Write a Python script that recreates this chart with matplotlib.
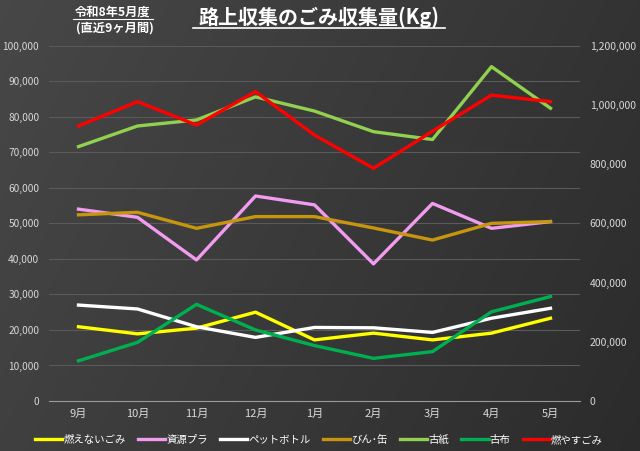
import matplotlib
matplotlib.use("Agg")
import matplotlib.pyplot as plt
import numpy as np
from matplotlib.ticker import FuncFormatter

plt.rcParams['font.family'] = ['Noto Sans CJK JP', 'DejaVu Sans']

months = ['9月', '10月', '11月', '12月', '1月', '2月', '3月', '4月', '5月']
moenai = [20900, 18900, 20500, 25000, 17200, 19100, 17200, 19100, 23300]
shigen_pla = [54000, 51700, 39700, 57700, 55200, 38600, 55600, 48600, 50500]
pet = [27000, 25900, 20900, 17900, 20700, 20600, 19300, 23300, 26100]
bin_kan = [52400, 53100, 48600, 51900, 51900, 48700, 45300, 50000, 50500]
koshi = [71600, 77400, 79100, 85600, 81600, 75800, 73600, 94100, 82400]
kofu = [11300, 16500, 27200, 20000, 15600, 12000, 13900, 25100, 29400]
moyasu = [929000, 1011000, 932000, 1045000, 898000, 786000, 911000, 1033000, 1011000]

fig = plt.figure(figsize=(6.4, 4.51), dpi=100)

# background gradient
bg = fig.add_axes([0, 0, 1, 1], zorder=-10)
gx = np.linspace(0, 1, 256)
gy = np.linspace(0, 1, 256)
X, Y = np.meshgrid(gx, gy)
val = 0.25 - 0.08 * X + 0.03 * Y
bg.imshow(np.dstack([val, val, val]), extent=[0, 1, 0, 1], aspect='auto', origin='lower')
bg.axis('off')

ax = fig.add_axes([49/640, 1-401/451, 531/640, (401-45.7)/451])
ax.patch.set_alpha(0)
x = np.arange(len(months))
lw = 2.4
ax.plot(x, moenai, color='#FFFF00', lw=lw, label='燃えないごみ')
ax.plot(x, shigen_pla, color='#F29CF0', lw=lw, label='資源プラ')
ax.plot(x, pet, color='#FFFFFF', lw=lw, label='ペットボトル')
ax.plot(x, bin_kan, color='#C7960E', lw=lw, label='びん･缶')
ax.plot(x, koshi, color='#92D050', lw=lw, label='古紙')
ax.plot(x, kofu, color='#00B050', lw=lw, label='古布')
ax.set_ylim(0, 100000)
ax.set_xlim(-0.5, 8.5)
ax.set_yticks(np.arange(0, 100001, 10000))
ax.yaxis.set_major_formatter(FuncFormatter(lambda v, p: f'{int(v):,}'))
ax.grid(axis='y', color='#5a5a5a', lw=0.8)
ax.set_axisbelow(True)
for s in ['top', 'right', 'left']:
    ax.spines[s].set_visible(False)
ax.spines['bottom'].set_color('#9a9a9a')
ax.tick_params(axis='y', length=0, colors='#d9d9d9', labelsize=7.3, pad=7)
ax.tick_params(axis='x', length=0, colors='#d9d9d9', labelsize=8, pad=6)
ax.set_xticks(x)
ax.set_xticklabels(months)

ax2 = ax.twinx()
ax2.plot(x, moyasu, color='#FF0000', lw=lw, label='燃やすごみ')
ax2.set_ylim(0, 1200000)
ax2.set_yticks(np.arange(0, 1200001, 200000))
ax2.yaxis.set_major_formatter(FuncFormatter(lambda v, p: f'{int(v):,}'))
for s in ['top', 'right', 'left', 'bottom']:
    ax2.spines[s].set_visible(False)
ax2.tick_params(axis='y', length=0, colors='#d9d9d9', labelsize=7.5, pad=7)

h1, l1 = ax.get_legend_handles_labels()
h2, l2 = ax2.get_legend_handles_labels()
leg = fig.legend(h1 + h2, l1 + l2, loc='center', bbox_to_anchor=(319/640, 1-440/451),
                 ncol=7, frameon=False, fontsize=7.5, handlelength=2.6,
                 handletextpad=0.1, columnspacing=1.2, labelcolor='white')

fig.text(319/640, 1-17.5/451, '路上収集のごみ収集量(Kg)', color='white', fontsize=14.4,
         fontweight='bold', ha='center', va='center')
fig.add_artist(matplotlib.lines.Line2D([193/640, 445/640], [1-27.5/451, 1-27.5/451],
                                       color='white', lw=1.2))
fig.text(113/640, 1-12.5/451, '令和8年5月度', color='white', fontsize=8.8,
         fontweight='bold', ha='center', va='center')
fig.add_artist(matplotlib.lines.Line2D([73/640, 153/640], [1-19/451, 1-19/451],
                                       color='white', lw=0.8))
fig.text(115/640, 1-28.5/451, '(直近9ヶ月間)', color='white', fontsize=8.8,
         fontweight='bold', ha='center', va='center')

fig.savefig('out.png', dpi=100)
